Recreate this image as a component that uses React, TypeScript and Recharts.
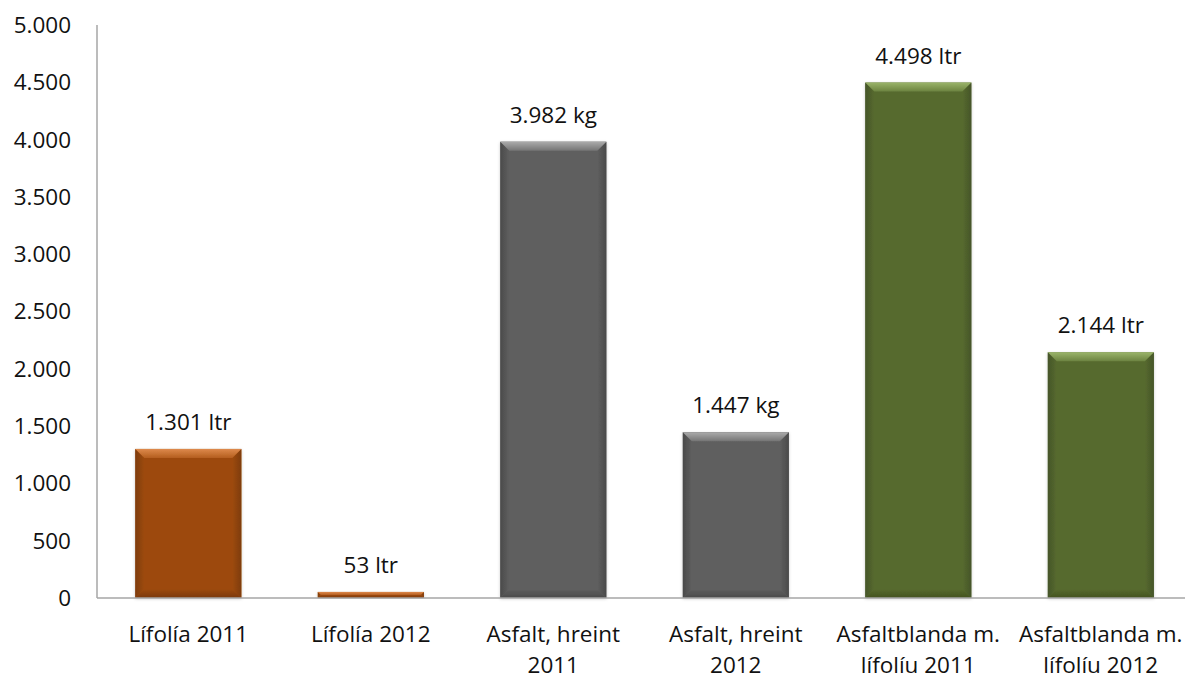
import React from 'react';
import { Bar, BarChart, LabelList, XAxis, YAxis } from 'recharts';

const categories = [
  'Lífolía 2011',
  'Lífolía 2012',
  'Asfalt, hreint\n2011',
  'Asfalt, hreint\n2012',
  'Asfaltblanda m.\nlífolíu 2011',
  'Asfaltblanda m.\nlífolíu 2012',
];
const amounts = [1301, 53, 3982, 1447, 4498, 2144];
const units = ['ltr', 'ltr', 'kg', 'kg', 'ltr', 'ltr'];
const yTicks = [0, 500, 1000, 1500, 2000, 2500, 3000, 3500, 4000, 4500, 5000];

const FONT = '"Open Sans", "Noto Sans", sans-serif';
const FS = 22.5;

// base, top light, top mid, side, bottom
const palettes = [
  ['#9D4A0E', '#DE8A4C', '#B45E1E', '#7E3C08', '#7A3909'],
  ['#9D4A0E', '#DE8A4C', '#B45E1E', '#7E3C08', '#7A3909'],
  ['#5F5F5F', '#ABABAB', '#757575', '#4A4A4A', '#4A4A4A'],
  ['#5F5F5F', '#ABABAB', '#757575', '#4A4A4A', '#4A4A4A'],
  ['#576A2E', '#9AB46A', '#6C8340', '#45552A', '#43531F'],
  ['#576A2E', '#9AB46A', '#6C8340', '#45552A', '#43531F'],
];

const data = categories.map((name, i) => ({ name, value: amounts[i], unit: units[i] }));

const fmt = (v: number) => String(v).replace(/\B(?=(\d{3})+(?!\d))/g, '.');

const BevelBar = (props: any) => {
  const { x, y, width, height, index } = props;
  if (!height || height <= 0) return null;
  const [base, light, mid, side, bottom] = palettes[index];
  const b = Math.min(9, height / 2, width / 2);
  const id = `bev${index}`;
  return (
    <g filter="url(#barShadow)">
      <defs>
        <linearGradient id={`${id}t`} x1="0" y1="0" x2="0" y2="1">
          <stop offset="0%" stopColor={light} />
          <stop offset="100%" stopColor={mid} />
        </linearGradient>
        <linearGradient id={`${id}l`} x1="0" y1="0" x2="1" y2="0">
          <stop offset="0%" stopColor={side} />
          <stop offset="100%" stopColor={base} />
        </linearGradient>
        <linearGradient id={`${id}r`} x1="1" y1="0" x2="0" y2="0">
          <stop offset="0%" stopColor={side} />
          <stop offset="100%" stopColor={base} />
        </linearGradient>
        <linearGradient id={`${id}b`} x1="0" y1="1" x2="0" y2="0">
          <stop offset="0%" stopColor={bottom} />
          <stop offset="100%" stopColor={base} />
        </linearGradient>
      </defs>
      <rect x={x} y={y} width={width} height={height} fill={base} />
      <polygon points={`${x},${y} ${x + b},${y + b} ${x + b},${y + height - b} ${x},${y + height}`} fill={`url(#${id}l)`} />
      <polygon points={`${x + width},${y} ${x + width - b},${y + b} ${x + width - b},${y + height - b} ${x + width},${y + height}`} fill={`url(#${id}r)`} />
      <polygon points={`${x},${y + height} ${x + b},${y + height - b} ${x + width - b},${y + height - b} ${x + width},${y + height}`} fill={`url(#${id}b)`} />
      <polygon points={`${x},${y} ${x + width},${y} ${x + width - b},${y + b} ${x + b},${y + b}`} fill={`url(#${id}t)`} />
    </g>
  );
};

const ValueLabel = (props: any) => {
  const { x, y, width, value, index } = props;
  return (
    <text x={x + width / 2} y={y - 19} textAnchor="middle" fontFamily={FONT} fontSize={FS} fill="#111">
      {`${fmt(value)} ${units[index]}`}
    </text>
  );
};

const CatTick = (props: any) => {
  const { x, y, payload } = props;
  const lines = String(payload.value).split('\n');
  return (
    <text x={x} y={y} textAnchor="middle" fontFamily={FONT} fontSize={FS} fill="#111">
      {lines.map((l, i) => (
        <tspan key={i} x={x} y={y + 42 + i * 31}>{l}</tspan>
      ))}
    </text>
  );
};

export default function App() {
  return (
    <div style={{ position: 'fixed', left: 0, top: 0, width: 1185, height: 675, overflow: 'hidden', background: '#fff' }}>
      <BarChart
        width={1200}
        height={675}
        data={data}
        margin={{ top: 25, right: 8, bottom: 0, left: 0 }}
        barCategoryGap="21%"
      >
        <defs>
          <filter id="barShadow" x="-10%" y="-10%" width="120%" height="120%">
            <feDropShadow dx="0" dy="1" stdDeviation="1.5" floodColor="#000" floodOpacity="0.2" />
          </filter>
        </defs>
        <XAxis
          dataKey="name"
          height={77}
          interval={0}
          tickLine={false}
          tickSize={0}
          axisLine={{ stroke: '#A6A6A6', strokeWidth: 1.5 }}
          tick={<CatTick />}
        />
        <YAxis
          domain={[0, 5000]}
          ticks={yTicks}
          width={97}
          tickLine={false}
          tickSize={0}
          tickMargin={26}
          axisLine={{ stroke: '#A6A6A6', strokeWidth: 1.5 }}
          tickFormatter={fmt}
          tick={{ fill: '#111', fontSize: FS, fontFamily: FONT }}
          interval={0}
        />
        <Bar dataKey="value" isAnimationActive={false} shape={BevelBar}>
          <LabelList dataKey="value" content={ValueLabel} />
        </Bar>
      </BarChart>
    </div>
  );
}
